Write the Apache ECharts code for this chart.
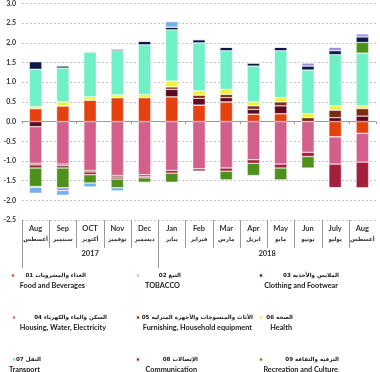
<!DOCTYPE html>
<html><head><meta charset="utf-8">
<script src="https://cdn.jsdelivr.net/npm/echarts@6/dist/echarts.min.js"></script>
<style>html,body{margin:0;padding:0;background:#fff}#c{width:380px;height:372px}</style>
</head><body><div id="c"></div>
<script>
// ---- categories / tick labels ----
const monthsEn = ['Aug','Sep','OCT','Nov','Dec','Jan','Feb','Mar','Apr','May','Jun','July','Aug'];
const monthsAr = ['أغسطس','سبتمبر','أكتوبر','نوفمبر','ديسمبر','يناير','فبراير','مارس','ابريل','مايو','يونيو','يوليو','أغسطس'];
const years = ['2017','2018'];
const monthsPerYear = [5, 8];
const yMin = -2.5, yMax = 3.0, yStep = 0.5;

// ---- series values (contribution, percentage points) ----
const food          = [0.33, 0.40, 0.55, 0.61, 0.61, 0.63, 0.42, 0.50, 0.19, 0.20, 0.00, -0.39, -0.30];
const tobacco       = [0, 0, 0, 0, 0, 0, 0, 0, 0, 0, 0, 0, 0];
const clothing      = [-0.13, 0, 0, 0, 0, 0.19, 0.17, 0.11, 0.12, 0.20, 0.00, 0.10, 0.14];
const housing       = [-0.93, -1.08, -1.24, -1.37, -1.35, -1.24, -1.20, -1.18, -0.97, -1.08, -0.78, -0.69, -0.73];
const furnishing    = [-0.04, -0.04, -0.04, -0.04, -0.04, 0.06, 0.08, 0.08, 0.09, 0.10, 0.10, 0.19, 0.19];
const health        = [0.05, 0.10, 0.08, 0.07, 0.08, 0.15, 0.11, 0.13, 0.10, 0.11, 0.10, 0.11, 0.07];
const transport     = [0.95, 0.86, 1.13, 1.12, 1.26, 1.30, 1.22, 0.98, 0.91, 1.19, 1.11, 1.30, 1.34];
const communication = [-0.08, -0.06, -0.07, -0.05, -0.04, -0.07, -0.06, -0.08, -0.09, -0.10, -0.11, -0.60, -0.65];
const recreation    = [-0.47, -0.50, -0.21, -0.22, -0.11, -0.23, 0, -0.22, -0.31, -0.30, -0.29, 0, 0.27];
const education     = [0.19, 0.05, 0.02, 0.04, 0.09, 0.07, 0.08, 0.09, 0.08, 0.09, 0.10, 0.10, 0.14];
const restaurants   = [-0.02, -0.07, 0, 0, 0, 0, 0, 0, 0, 0, 0.08, 0.09, 0.08];
const miscellaneous = [-0.15, -0.12, -0.10, -0.08, -0.02, 0.14, 0.02, 0, 0, 0, 0, 0, 0];

// ---- series names ----
const namesEn = ['Food and Beverages','TOBACCO','Clothing and Footwear','Housing, Water, Electricity',
  'Furnishing, Household equipment','Health','Transport','Communication','Recreation and Culture',
  'Education','Restaurants and Hotels','Miscellaneous Goods and Services'];
const namesAr = ['الغذاء والمشروبات 01','التبغ 02','الملابس والأحذية 03','السكن والماء والكهرباء 04',
  'الأثاث والمنسوجات والأجهزة المنزلية 05','الصحة 06','النقل 07','الإتصالات 08','الترفيه والثقافة 09',
  'التعليم 10','المطاعم والفنادق 11','السلع والخدمات المتنوعة 12'];
const seriesValues = [food, tobacco, clothing, housing, furnishing, health, transport,
  communication, recreation, education, restaurants, miscellaneous];

// ---- styles / layout ----
const colors = ['#e5410e','#8fdcdc','#5e0b1f','#d2608b','#7a2b12','#f1f13c','#6ff0c6',
  '#a31f3d','#4f8f1b','#0c1a48','#9b90e0','#74aff0'];
const FONT = 'Lato, "DejaVu Sans", sans-serif';
const legendLayout = [ // [markerX, arabicCenterY, rightEdge]
  [10, 276.5, 85], [135, 276.5, 180], [258, 276.5, 338],
  [11, 318.5, 106], [135, 318.5, 252], [258, 318.5, 292],
  [11, 360.5, 40], [135, 360.5, 197], [258, 360.5, 338]
];

const catIds = monthsEn.map((m, i) => m + '-' + i);

const legends = legendLayout.map((p, k) => ({
  data: [namesEn[k]], left: p[0], top: p[1] - 4, padding: 0,
  itemWidth: 4, itemHeight: 4, icon: 'rect', selectedMode: false,
  formatter: () => '{a|' + namesAr[k] + '}',
  textStyle: { rich: { a: { width: p[2] - p[0] - 9, align: 'right', fontSize: 5.6, fontWeight: 'bold',
    color: '#222', fontFamily: '"DejaVu Sans", sans-serif', lineHeight: 8 } } }
}));

const chart = echarts.init(document.getElementById('c'), null, { renderer: 'canvas' });
chart.setOption({
  animation: false,
  backgroundColor: '#fff',
  grid: { left: 22, right: 4, top: 2, bottom: 152 },
  legend: legends,
  xAxis: [
    { type: 'category', data: catIds, boundaryGap: true,
      axisLine: { show: true, onZero: true, lineStyle: { color: '#9a9a9a', width: 1 } },
      axisTick: { show: true, length: 2.5, lineStyle: { color: '#9a9a9a' } },
      axisLabel: { show: false }, splitLine: { show: false } },
    { type: 'category', data: catIds, position: 'bottom', boundaryGap: true,
      axisLine: { show: false, onZero: false }, axisTick: { show: false }, splitLine: { show: false },
      axisLabel: { show: true, interval: 0, margin: 4,
        formatter: (v, i) => '{en|' + monthsEn[i] + '}\n{ar|' + monthsAr[i] + '}',
        rich: { en: { fontSize: 7.5, fontWeight: 'bold', color: '#333', fontFamily: FONT, lineHeight: 10 },
                ar: { fontSize: 5.6, fontWeight: 'bold', color: '#333', fontFamily: FONT, lineHeight: 10 } } } }
  ],
  yAxis: {
    type: 'value', min: yMin, max: yMax, interval: yStep,
    axisLine: { show: false }, axisTick: { show: false },
    axisLabel: { formatter: v => v.toFixed(1), fontSize: 7, fontWeight: 'bold', color: '#333', fontFamily: FONT, margin: 6 },
    splitLine: { show: true, lineStyle: { color: '#b8b8b8', type: [2, 2], width: 0.8 } }
  },
  series: seriesValues.map((d, k) => ({
    name: namesEn[k], type: 'bar', stack: 'total', data: d, barWidth: '46%',
    itemStyle: { color: colors[k], borderColor: 'rgba(255,255,255,0.85)', borderWidth: 0.5 },
    emphasis: { disabled: true }
  }))
});

// ---- two-level axis decoration (separators + years), positioned via axis scale ----
function decorate() {
  const yb = chart.convertToPixel({ yAxisIndex: 0 }, yMin);
  const x0 = chart.convertToPixel({ xAxisIndex: 0 }, 0);
  const x1 = chart.convertToPixel({ xAxisIndex: 0 }, 1);
  const bw = x1 - x0;
  const bound = i => x0 + (i - 0.5) * bw;
  const g = [];
  const yearStarts = [0];
  monthsPerYear.forEach((n, k) => yearStarts.push(yearStarts[k] + n));
  for (let i = 0; i < monthsEn.length; i++) {
    const long = yearStarts.indexOf(i) >= 0;
    const x = Math.round(bound(i)) + 0.5;
    g.push({ type: 'line', silent: true, shape: { x1: x, y1: yb, x2: x, y2: yb + (long ? 48 : 28) },
      style: { stroke: '#9a9a9a', lineWidth: 1 } });
  }
  years.forEach((yr, k) => {
    const cx = (bound(yearStarts[k]) + bound(yearStarts[k + 1])) / 2;
    g.push({ type: 'text', silent: true, x: cx, y: yb + 33.5,
      style: { text: yr, fill: '#333', font: 'bold 7.5px ' + FONT, align: 'center', verticalAlign: 'middle',
        textAlign: 'center', textVerticalAlign: 'middle' } });
  });
  legendLayout.forEach((p, k) => {
    g.push({ type: 'text', silent: true, x: p[2], y: p[1] + 9.3,
      style: { text: namesEn[k], fill: '#222', font: 'bold 7.3px ' + FONT, align: 'right', verticalAlign: 'middle',
        textAlign: 'right', textVerticalAlign: 'middle' } });
  });
  chart.setOption({ graphic: g });
}
decorate();
</script></body></html>
